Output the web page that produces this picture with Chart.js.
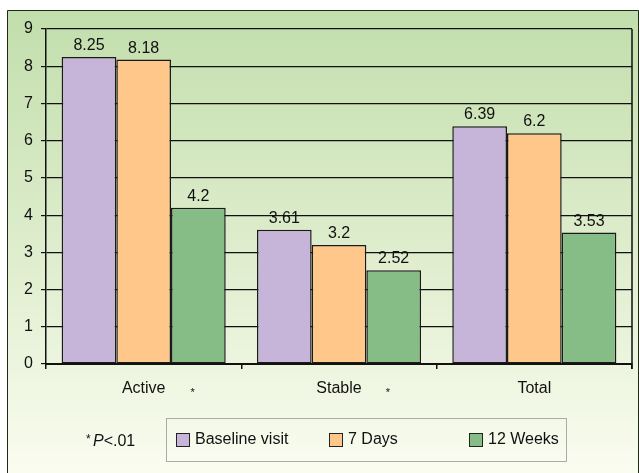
<!DOCTYPE html>
<html>
<head>
<meta charset="utf-8">
<script src="https://cdn.jsdelivr.net/npm/chart.js@4.4.0/dist/chart.umd.min.js"></script>
<style>
html,body{margin:0;padding:0;background:#fff;}
#wrap{width:639px;height:473px;position:relative;}
</style>
</head>
<body>
<div id="wrap"><canvas id="c" width="639" height="473"></canvas></div>
<script>
const categories = ["Active", "Stable", "Total"];
const baselineVisit = [8.25, 3.61, 6.39];
const sevenDays = [8.18, 3.2, 6.2];
const twelveWeeks = [4.2, 2.52, 3.53];
const seriesNames = ["Baseline visit", "7 Days", "12 Weeks"];
const significant = [true, true, false];
const yTicks = [0,1,2,3,4,5,6,7,8,9];

const colors = ["#c6b5d8", "#ffc88a", "#86bc86"];
const FONT = "'Liberation Sans', Arial, sans-serif";
const FS = 16;

const bgPlugin = {
  id: 'bg',
  beforeDraw(chart) {
    const ctx = chart.ctx;
    ctx.save();
    ctx.fillStyle = '#ffffff';
    ctx.fillRect(0, 0, chart.width, chart.height);
    const g = ctx.createLinearGradient(0, 10, 0, 473);
    g.addColorStop(0, '#c2deac');
    g.addColorStop(0.55, '#e0eecf');
    g.addColorStop(1, '#fafcf0');
    ctx.fillStyle = g;
    ctx.fillRect(7.5, 10.5, 631, 463);
    ctx.strokeStyle = '#1e2a14';
    ctx.lineWidth = 1;
    ctx.beginPath();
    ctx.moveTo(7.5, 474);
    ctx.lineTo(7.5, 10.5);
    ctx.lineTo(638.5, 10.5);
    ctx.lineTo(638.5, 474);
    ctx.stroke();
    ctx.restore();
  },
  afterDraw(chart) {
    const ctx = chart.ctx;
    const area = chart.chartArea;
    ctx.save();
    ctx.strokeStyle = '#111';
    ctx.lineWidth = 1.5;
    ctx.beginPath();
    ctx.moveTo(area.right, area.top);
    ctx.lineTo(area.right, area.bottom + 5);
    ctx.stroke();
    ctx.fillStyle = '#111';
    ctx.font = FS + 'px ' + FONT;
    ctx.textAlign = 'center';
    ctx.textBaseline = 'alphabetic';
    chart.data.datasets.forEach((ds, di) => {
      const meta = chart.getDatasetMeta(di);
      meta.data.forEach((bar, i) => {
        ctx.fillText(String(ds.data[i]), bar.x, bar.y - 7);
      });
    });
    const xs = chart.scales.x;
    ctx.font = '11px ' + FONT;
    categories.forEach((c, i) => {
      if (significant[i]) {
        const cx = xs.getPixelForValue(i);
        ctx.fillText('*', cx + 49, 396);
      }
    });
    ctx.textAlign = 'left';
    ctx.font = '12px ' + FONT;
    ctx.fillText('*', 86, 443);
    ctx.font = 'italic ' + FS + 'px ' + FONT;
    ctx.fillText('P', 93, 446);
    const pw = ctx.measureText('P').width;
    ctx.font = FS + 'px ' + FONT;
    ctx.fillText('<.01', 93 + pw, 446);
    ctx.strokeStyle = '#aaaaaa';
    ctx.lineWidth = 1;
    ctx.strokeRect(166.5, 418.5, 400, 43);
    const lx = [176, 329, 469];
    seriesNames.forEach((n, i) => {
      ctx.fillStyle = colors[i];
      ctx.fillRect(lx[i] + 0.5, 433.5, 13, 13);
      ctx.strokeStyle = '#222';
      ctx.lineWidth = 1;
      ctx.strokeRect(lx[i] + 0.5, 433.5, 13, 13);
      ctx.fillStyle = '#111';
      ctx.font = FS + 'px ' + FONT;
      ctx.textBaseline = 'middle';
      ctx.fillText(n, lx[i] + 19, 440);
    });
    ctx.restore();
  }
};

new Chart(document.getElementById('c'), {
  type: 'bar',
  data: {
    labels: categories,
    datasets: [
      { label: seriesNames[0], data: baselineVisit, backgroundColor: colors[0] },
      { label: seriesNames[1], data: sevenDays, backgroundColor: colors[1] },
      { label: seriesNames[2], data: twelveWeeks, backgroundColor: colors[2] }
    ].map(d => Object.assign(d, { borderColor: '#1a1a1a', borderWidth: 1.5, borderSkipped: false, barPercentage: 1, categoryPercentage: 0.84 }))
  },
  options: {
    responsive: false,
    animation: false,
    devicePixelRatio: 1,
    layout: { padding: { top: 29, right: 7, left: 0, bottom: 0 } },
    plugins: { legend: { display: false }, tooltip: { enabled: false } },
    scales: {
      y: {
        min: 0, max: 9,
        afterBuildTicks(scale) { scale.ticks = yTicks.map(v => ({ value: v })); },
        afterFit(scale) { scale.width = 46; },
        grid: { color: '#111', lineWidth: 1.2, tickLength: 5, drawTicks: true },
        border: { display: true, color: '#111', width: 1.5 },
        ticks: { color: '#111', font: { size: FS, family: FONT }, padding: 8 }
      },
      x: {
        afterFit(scale) { scale.height = 109; },
        grid: { offset: true, drawOnChartArea: false, color: '#111', lineWidth: 1.5, tickLength: 5 },
        border: { display: true, color: '#111', width: 2 },
        ticks: { color: '#111', font: { size: FS, family: FONT }, padding: 10 }
      }
    }
  },
  plugins: [bgPlugin]
});
</script>
</body>
</html>
